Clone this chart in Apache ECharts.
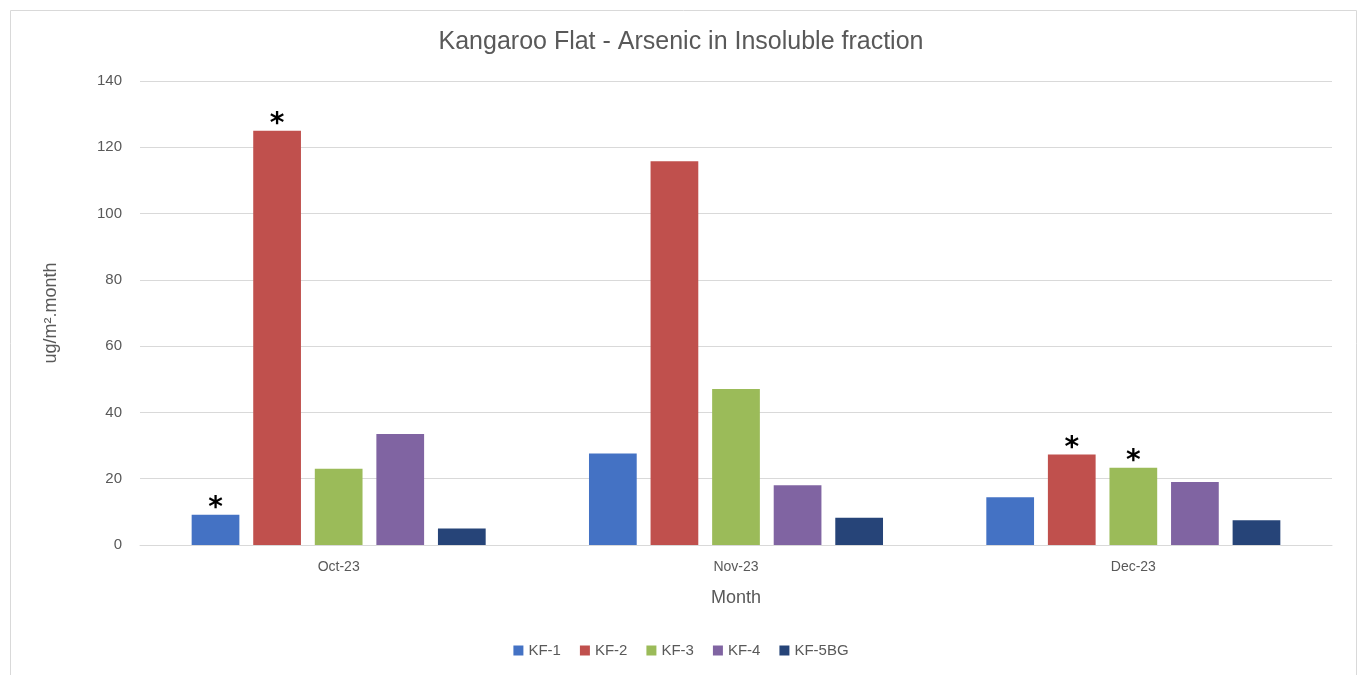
<!DOCTYPE html>
<html>
<head>
<meta charset="utf-8">
<script src="https://cdn.jsdelivr.net/npm/echarts@6/dist/echarts.min.js"></script>
<style>html,body{margin:0;padding:0;background:#fff}#c{width:1362px;height:675px}</style>
</head>
<body>
<div id="c"></div>
<script>
const months = ['Oct-23', 'Nov-23', 'Dec-23'];
const seriesNames = ['KF-1', 'KF-2', 'KF-3', 'KF-4', 'KF-5BG'];
const kf1 = [9.1, 27.6, 14.4];
const kf2 = [125.0, 115.8, 27.3];
const kf3 = [23.0, 47.1, 23.3];
const kf4 = [33.5, 18.0, 19.0];
const kf5bg = [5.0, 8.2, 7.5];
// asterisk flags per series (true = marked with *)
const star1 = [true, false, false];
const star2 = [true, false, true];
const star3 = [false, false, true];
const star4 = [false, false, false];
const star5 = [false, false, false];
const yTicks = [0, 20, 40, 60, 80, 100, 120, 140];

const colors = ['#4472C4', '#C0504D', '#9BBB59', '#8064A2', '#264478'];
const values = [kf1, kf2, kf3, kf4, kf5bg];
const stars = [star1, star2, star3, star4, star5];
const font = 'Liberation Sans, Arial, sans-serif';

const chart = echarts.init(document.getElementById('c'));
chart.setOption({
  animation: false,
  color: colors,
  graphic: [{
    type: 'rect', left: 8, top: 8,
    shape: { width: 1346, height: 680 },
    style: { fill: 'none', stroke: '#d9d9d9', lineWidth: 1 },
    silent: true
  }],
  title: {
    text: 'Kangaroo Flat - Arsenic in Insoluble fraction',
    left: 'center', top: 25,
    textStyle: { fontFamily: font, fontSize: 25, fontWeight: 'normal', color: '#595959' }
  },
  legend: {
    bottom: 12, left: 'center',
    itemWidth: 10, itemHeight: 10, itemGap: 19,
    icon: 'rect',
    textStyle: { fontFamily: font, fontSize: 15, color: '#595959' },
    data: seriesNames
  },
  grid: { left: 140, right: 30, top: 81, bottom: 130, containLabel: false },
  xAxis: {
    type: 'category', data: months,
    name: 'Month', nameLocation: 'middle', nameGap: 44,
    nameTextStyle: { fontFamily: font, fontSize: 18, color: '#595959' },
    axisLine: { lineStyle: { color: '#d9d9d9' } },
    axisTick: { show: false },
    axisLabel: { fontFamily: font, fontSize: 14, color: '#595959', margin: 15 }
  },
  yAxis: {
    type: 'value', min: yTicks[0], max: yTicks[yTicks.length - 1], interval: 20,
    name: 'ug/m\u00b2.month', nameLocation: 'middle', nameGap: 80, nameRotate: 90,
    nameTextStyle: { fontFamily: font, fontSize: 18, color: '#595959' },
    axisLine: { show: false },
    axisTick: { show: false },
    axisLabel: { fontFamily: font, fontSize: 15, color: '#595959', margin: 18 },
    splitLine: { lineStyle: { color: '#d9d9d9' } }
  },
  series: seriesNames.map((n, i) => ({
    name: n, type: 'bar',
    barGap: '29%', barCategoryGap: '26%',
    itemStyle: { color: colors[i] },
    label: {
      show: true, position: 'top', distance: -8,
      fontFamily: 'DejaVu Sans, sans-serif', fontSize: 28, fontWeight: 'bold', color: '#000',
      formatter: p => stars[i][p.dataIndex] ? '*' : ''
    },
    data: values[i]
  }))
});
</script>
</body>
</html>
